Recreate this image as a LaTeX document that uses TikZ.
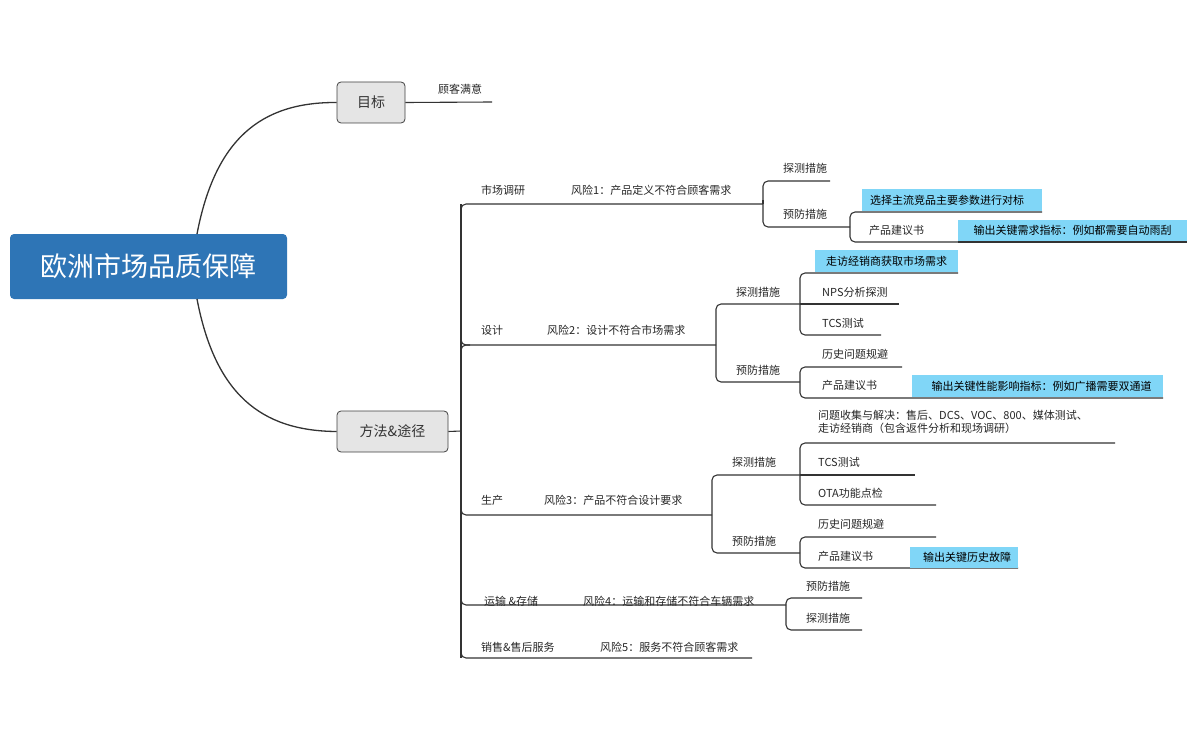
\documentclass[tikz,border=0pt]{standalone}
\usepackage{fontspec}
\setmainfont{Noto Sans CJK SC}
\begin{document}
\begin{tikzpicture}[x=1pt,y=-1pt,
  ln/.style={draw=black!80,line width=1.1pt,rounded corners=5pt},
  t/.style={anchor=west,inner sep=0pt,font=\fontsize{11}{13}\selectfont,text=black!85},
  hl/.style={fill=cyan!50,inner sep=0pt,anchor=north west,font=\fontsize{11}{13}\selectfont},
  box/.style={draw=black!75,fill=black!10,rounded corners=4pt,line width=0.8pt,font=\fontsize{14}{16}\selectfont,text=black!80}]
\useasboundingbox (0,0) rectangle (1197,741);
% root
\node[fill={rgb,255:red,46;green,117;blue,182},rounded corners=4pt,minimum width=277pt,minimum height=65pt,text=white,font=\fontsize{27}{30}\selectfont] (root) at (148.5,266.5) {欧洲市场品质保障};
\node[box,minimum width=68pt,minimum height=41pt] (goal) at (371,102.5) {目标};
\node[box,minimum width=111pt,minimum height=41pt] (way) at (392.5,431.5) {方法\&途径};
\draw[black!80,line width=1.3pt] (197,234) .. controls (215,140) and (260,102) .. (goal.west);
\draw[black!80,line width=1.3pt] (197,299) .. controls (215,393) and (260,431) .. (way.west);
\node[t] (g1) at (438,89) {顾客满意};
\draw[ln] (goal.east) -- (492,102);
% trunk
\draw[ln] (way.east) -- (461,431);
\draw[ln] (461,204) -- (461,658);
\draw[ln] (461,215) |- (763,204);
\draw[ln] (470,345) -| (461,360);
\draw[ln] (461,335) |- (716,345);
\draw[ln] (461,505) |- (712,515);
\draw[ln] (461,595) |- (786,605);
\draw[ln] (461,645) |- (752,658);
% 1
\node[t] (a) at (481,190) {市场调研};
\node[t] (a1) at (571,190) {风险1：产品定义不符合顾客需求};
\draw[ln] (830,181) -- (763,181) -- (763,227) -- (850,227);
\draw[ln] (763,200) -- (763,204);
\node[t] (a11) at (783,168) {探测措施};
\node[t] (a12) at (783,214) {预防措施};
\draw[ln] (1042,212) -- (850,212) -- (850,242) -- (958,242);
\node[hl,minimum width=180pt,minimum height=22pt,text width=176pt,align=left] (a121) at (862,189) {\hspace{6pt}选择主流竞品主要参数进行对标};
\node[t] (a122) at (869,230) {产品建议书};
\node[hl,minimum width=229pt,minimum height=21pt] (a123) at (958,220) {输出关键需求指标：例如都需要自动雨刮};
\draw[ln] (958,242) -- (1187,242);
% 2
\node[t] (b) at (481,330) {设计};
\node[t] (b1) at (547,330) {风险2：设计不符合市场需求};
\draw[ln] (800,304) -- (716,304) -- (716,382) -- (800,382);
\node[t] (b11) at (736,292) {探测措施};
\node[t] (b12) at (736,370) {预防措施};
\draw[ln] (958,273) -- (800,273) -- (800,335) -- (881,335);
\draw[ln] (800,304) -- (899,304);
\node[hl,minimum width=143pt,minimum height=22pt] (b111) at (815,250) {走访经销商获取市场需求};
\node[t] (b112) at (822,292) {NPS分析探测};
\node[t] (b113) at (822,323) {TCS测试};
\draw[ln] (902,367) -- (800,367) -- (800,398) -- (1163,398);
\node[t] (b121) at (822,354) {历史问题规避};
\node[t] (b122) at (822,385) {产品建议书};
\node[hl,minimum width=251pt,minimum height=22pt] (b123) at (912,375) {\hspace{8pt}输出关键性能影响指标：例如广播需要双通道\hfill};
% 3
\node[t] (c) at (481,500) {生产};
\node[t] (c1) at (544,500) {风险3：产品不符合设计要求};
\draw[ln] (800,475) -- (712,475) -- (712,553) -- (800,553);
\node[t] (c11) at (732,462) {探测措施};
\node[t] (c12) at (732,541) {预防措施};
\draw[ln] (1115,443) -- (800,443) -- (800,505) -- (936,505);
\draw[ln] (800,475) -- (915,475);
\node[t,align=left] (c111) at (818,422) {问题收集与解决：售后、DCS、VOC、800、媒体测试、\\走访经销商（包含返件分析和现场调研）};
\node[t] (c112) at (818,462) {TCS测试};
\node[t] (c113) at (818,493) {OTA功能点检};
\draw[ln] (936,537) -- (800,537) -- (800,568) -- (1018,568);
\node[t] (c121) at (818,524) {历史问题规避};
\node[t] (c122) at (818,556) {产品建议书};
\node[hl,minimum width=108pt,minimum height=21pt] (c123) at (910,547) {\hspace{6pt}输出关键历史故障\hfill};
% 4
\node[t] (d) at (484,601) {运输 \&存储};
\node[t] (d1) at (583,601) {风险4：运输和存储不符合车辆需求};
\draw[ln] (862,598) -- (786,598) -- (786,630) -- (862,630);
\node[t] (d11) at (806,586) {预防措施};
\node[t] (d12) at (806,618) {探测措施};
% 5
\node[t] (e) at (481,647) {销售\&售后服务};
\node[t] (e1) at (600,647) {风险5：服务不符合顾客需求};
\end{tikzpicture}
\end{document}
